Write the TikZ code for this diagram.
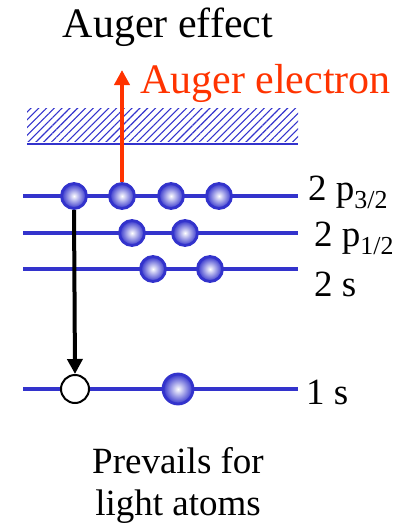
\documentclass[tikz,border=0pt]{standalone}
\usepackage{xcolor}
\usepackage{fontspec}
\setmainfont{Liberation Serif}
\usetikzlibrary{arrows.meta,patterns.meta}
\definecolor{AgBlue}{HTML}{3333CC}
\definecolor{AgRed}{HTML}{FF3300}

\begin{document}
\begin{tikzpicture}[x=1pt,y=-1pt]
  \tikzset{
    aglevel/.style={draw=AgBlue,line width=4pt},
    agelectron/.style={
      circle,
      draw=AgBlue,
      line width=2.8pt,
      inner sep=0pt,
      minimum size=25pt,
      inner color=white,
      outer color=AgBlue
    },
    agbig/.style={agelectron,minimum size=30pt},
    aghole/.style={circle,draw=black,line width=2pt,fill=white,inner sep=0pt,minimum size=28pt},
    agarrow/.style={-{Triangle[length=15pt,width=15pt]},line width=4pt},
    aglabel/.style={font=\fontsize{37}{40}\selectfont,anchor=base west,inner sep=0pt},
    agtitle/.style={font=\fontsize{42}{46}\selectfont,inner sep=0pt}
  }
  \useasboundingbox (0,0) rectangle (410,528);

  % ------------------------------------------------------------------
  % Title and continuum
  % ------------------------------------------------------------------
  \node[agtitle,anchor=base] (title) at (168,37) {Auger effect};
  \pattern[pattern={Lines[angle=45,distance=5.5pt,line width=1.1pt]},pattern color=AgBlue]
    (27,108) rectangle (298,141);
  \draw[AgBlue,line width=2pt] (27,143.5) -- (298,143.5);

  % ------------------------------------------------------------------
  % Levels
  % ------------------------------------------------------------------
  \coordinate (p32l) at (23,196);  \coordinate (p32r) at (298,196);
  \coordinate (p12l) at (23,233);  \coordinate (p12r) at (298,233);
  \coordinate (s2l)  at (23,269);  \coordinate (s2r)  at (298,269);
  \coordinate (s1l)  at (23,389);  \coordinate (s1r)  at (298,389);
  \draw[aglevel] (p32l) -- (p32r);
  \draw[aglevel] (p12l) -- (p12r);
  \draw[aglevel] (s2l) -- (s2r);
  \draw[aglevel] (s1l) -- (s1r);

  \node[aglabel] (lp32) at (308,200) {2 p\textsubscript{3/2}};
  \node[aglabel] (lp12) at (314,246) {2 p\textsubscript{1/2}};
  \node[aglabel] (ls2)  at (314,296) {2 s};
  \node[aglabel] (ls1)  at (306,404) {1 s};

  % electrons
  \node[agelectron] (e32a) at (74,196) {};
  \node[agelectron] (e32b) at (122,196) {};
  \node[agelectron] (e32c) at (171,196) {};
  \node[agelectron] (e32d) at (219,196) {};
  \node[agelectron] (e12a) at (132,233) {};
  \node[agelectron] (e12b) at (185,233) {};
  \node[agelectron] (e2sa) at (153,269) {};
  \node[agelectron] (e2sb) at (210,269) {};
  \node[aghole] (hole) at (75,389) {};
  \node[agbig] (e1s) at (178,389) {};

  % ------------------------------------------------------------------
  % Transitions
  % ------------------------------------------------------------------
  \coordinate (escape) at (122,70);
  \draw[agarrow,draw=AgRed,fill=AgRed] (e32b.north) -- (escape);
  \node[agtitle,text=AgRed,anchor=base west] (auger) at (140,93) {Auger electron};
  \draw[agarrow,draw=black] (e32a.south) -- (hole.north);

  \node[aglabel,anchor=base] (note) at (178,473) {Prevails for};
  \node[aglabel,anchor=base] (note2) at (178,515) {light atoms};
\end{tikzpicture}
\end{document}
